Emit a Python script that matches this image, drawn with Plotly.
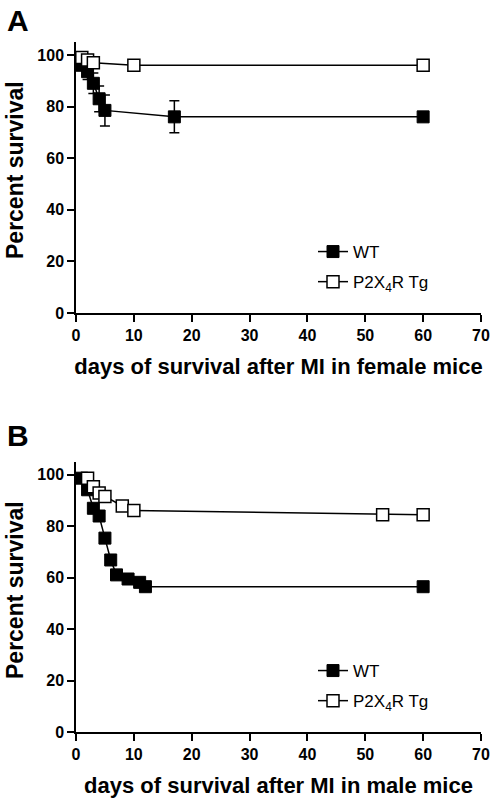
import plotly.graph_objects as go

# ---------------- data ----------------
# Panel A (female mice)
a_wt_days = [1, 2, 3, 4, 5, 17, 60]
a_wt_surv = [96, 93.5, 89, 83, 78.5, 76, 76]
a_wt_err = [2, 3, 4, 5, 6, 6.2, 0]
a_tg_days = [1, 2, 3, 10, 60]
a_tg_surv = [99, 98, 97, 96, 96]

# Panel B (male mice)
b_wt_days = [1, 2, 3, 4, 5, 6, 7, 9, 11, 12, 60]
b_wt_surv = [98.7, 94.2, 87, 84, 75.4, 66.9, 61.1, 59.5, 58.2, 56.5, 56.5]
b_tg_days = [2, 3, 4, 5, 8, 10, 53, 60]
b_tg_surv = [98.7, 95.4, 92.9, 91.6, 87.9, 86.1, 84.5, 84.5]

x_ticks = [0, 10, 20, 30, 40, 50, 60, 70]
y_ticks = [0, 20, 40, 60, 80, 100]
series_names = ["WT", "P2X<sub>4</sub>R Tg"]
x_titles = ["days of survival after MI in female mice",
            "days of survival after MI in male mice"]
y_title = "Percent survival"
panel_labels = ["A", "B"]

FONT = "Liberation Sans, Arial, sans-serif"
W, H = 495, 800

fig = go.Figure()

wt_marker = dict(symbol="square", size=12, color="black", line=dict(color="black", width=1))
tg_marker = dict(symbol="square", size=12, color="white", line=dict(color="black", width=1.5))
line_style = dict(color="black", width=1.5)

# Panel A
fig.add_trace(go.Scatter(x=a_wt_days, y=a_wt_surv, mode="lines+markers", name=series_names[0],
                         marker=wt_marker, line=line_style,
                         error_y=dict(type="data", array=a_wt_err, visible=True, color="black",
                                      thickness=1.5, width=5),
                         xaxis="x", yaxis="y", legend="legend", legendgroup="a1"))
fig.add_trace(go.Scatter(x=a_tg_days, y=a_tg_surv, mode="lines+markers", name=series_names[1],
                         marker=tg_marker, line=line_style,
                         xaxis="x", yaxis="y", legend="legend", legendgroup="a2"))
# Panel B
fig.add_trace(go.Scatter(x=b_wt_days, y=b_wt_surv, mode="lines+markers", name=series_names[0],
                         marker=wt_marker, line=line_style,
                         xaxis="x2", yaxis="y2", legend="legend2", legendgroup="b1"))
fig.add_trace(go.Scatter(x=b_tg_days, y=b_tg_surv, mode="lines+markers", name=series_names[1],
                         marker=tg_marker, line=line_style,
                         xaxis="x2", yaxis="y2", legend="legend2", legendgroup="b2"))

def px_x(p):
    return p / W

def px_y(p):
    return 1 - p / H

tick_font = dict(family=FONT, size=16, color="black", weight="bold")
title_font = dict(family=FONT, size=22, color="black", weight="bold")
ytitle_font = dict(family=FONT, size=23, color="black", weight="bold")

x_dom = [px_x(76), px_x(481)]
common_x = dict(range=[0, 70], tickvals=x_ticks, showline=True, linecolor="black", linewidth=1.5,
                ticks="outside", ticklen=7, tickwidth=1.5, tickcolor="black",
                showgrid=False, zeroline=False, automargin=False, tickfont=tick_font)
common_y = dict(range=[0, 105], tickvals=y_ticks, showline=True, linecolor="black", linewidth=1.5,
                ticks="outside", ticklen=7, tickwidth=1.5, tickcolor="black",
                showgrid=False, zeroline=False, automargin=False, tickfont=tick_font)

legend_common = dict(xanchor="left", yanchor="top", bgcolor="rgba(0,0,0,0)",
                     font=dict(family=FONT, size=17, color="black"),
                     tracegroupgap=5, traceorder="grouped")

fig.update_layout(
    template="none",
    width=W, height=H,
    margin=dict(l=0, r=0, t=0, b=0, autoexpand=False),
    paper_bgcolor="white", plot_bgcolor="white",
    showlegend=True,
    xaxis=dict(domain=x_dom, anchor="y", **common_x,
               title=dict(text=x_titles[0], standoff=16, font=title_font)),
    yaxis=dict(domain=[px_y(313), px_y(42)], anchor="x", **common_y),
    xaxis2=dict(domain=x_dom, anchor="y2", **common_x,
                title=dict(text=x_titles[1], standoff=16, font=title_font)),
    yaxis2=dict(domain=[px_y(732), px_y(462)], anchor="x2", **common_y),
    legend=dict(x=px_x(313), y=px_y(234), **legend_common),
    legend2=dict(x=px_x(313), y=px_y(653), **legend_common),
    annotations=[
        dict(text=panel_labels[0], x=px_x(5), y=px_y(2), xref="paper", yref="paper",
             xanchor="left", yanchor="top", showarrow=False,
             font=dict(family=FONT, size=30, color="black", weight="bold")),
        dict(text=panel_labels[1], x=px_x(5), y=px_y(417), xref="paper", yref="paper",
             xanchor="left", yanchor="top", showarrow=False,
             font=dict(family=FONT, size=30, color="black", weight="bold")),
        dict(text=y_title, x=px_x(15), y=px_y(170), xref="paper", yref="paper",
             xanchor="center", yanchor="middle", textangle=-90, showarrow=False,
             font=ytitle_font),
        dict(text=y_title, x=px_x(15), y=px_y(590), xref="paper", yref="paper",
             xanchor="center", yanchor="middle", textangle=-90, showarrow=False,
             font=ytitle_font),
    ],
)

fig.write_html("out.html", config={"displayModeBar": False},
               post_script="document.body.style.margin='0';document.body.style.padding='0';")
